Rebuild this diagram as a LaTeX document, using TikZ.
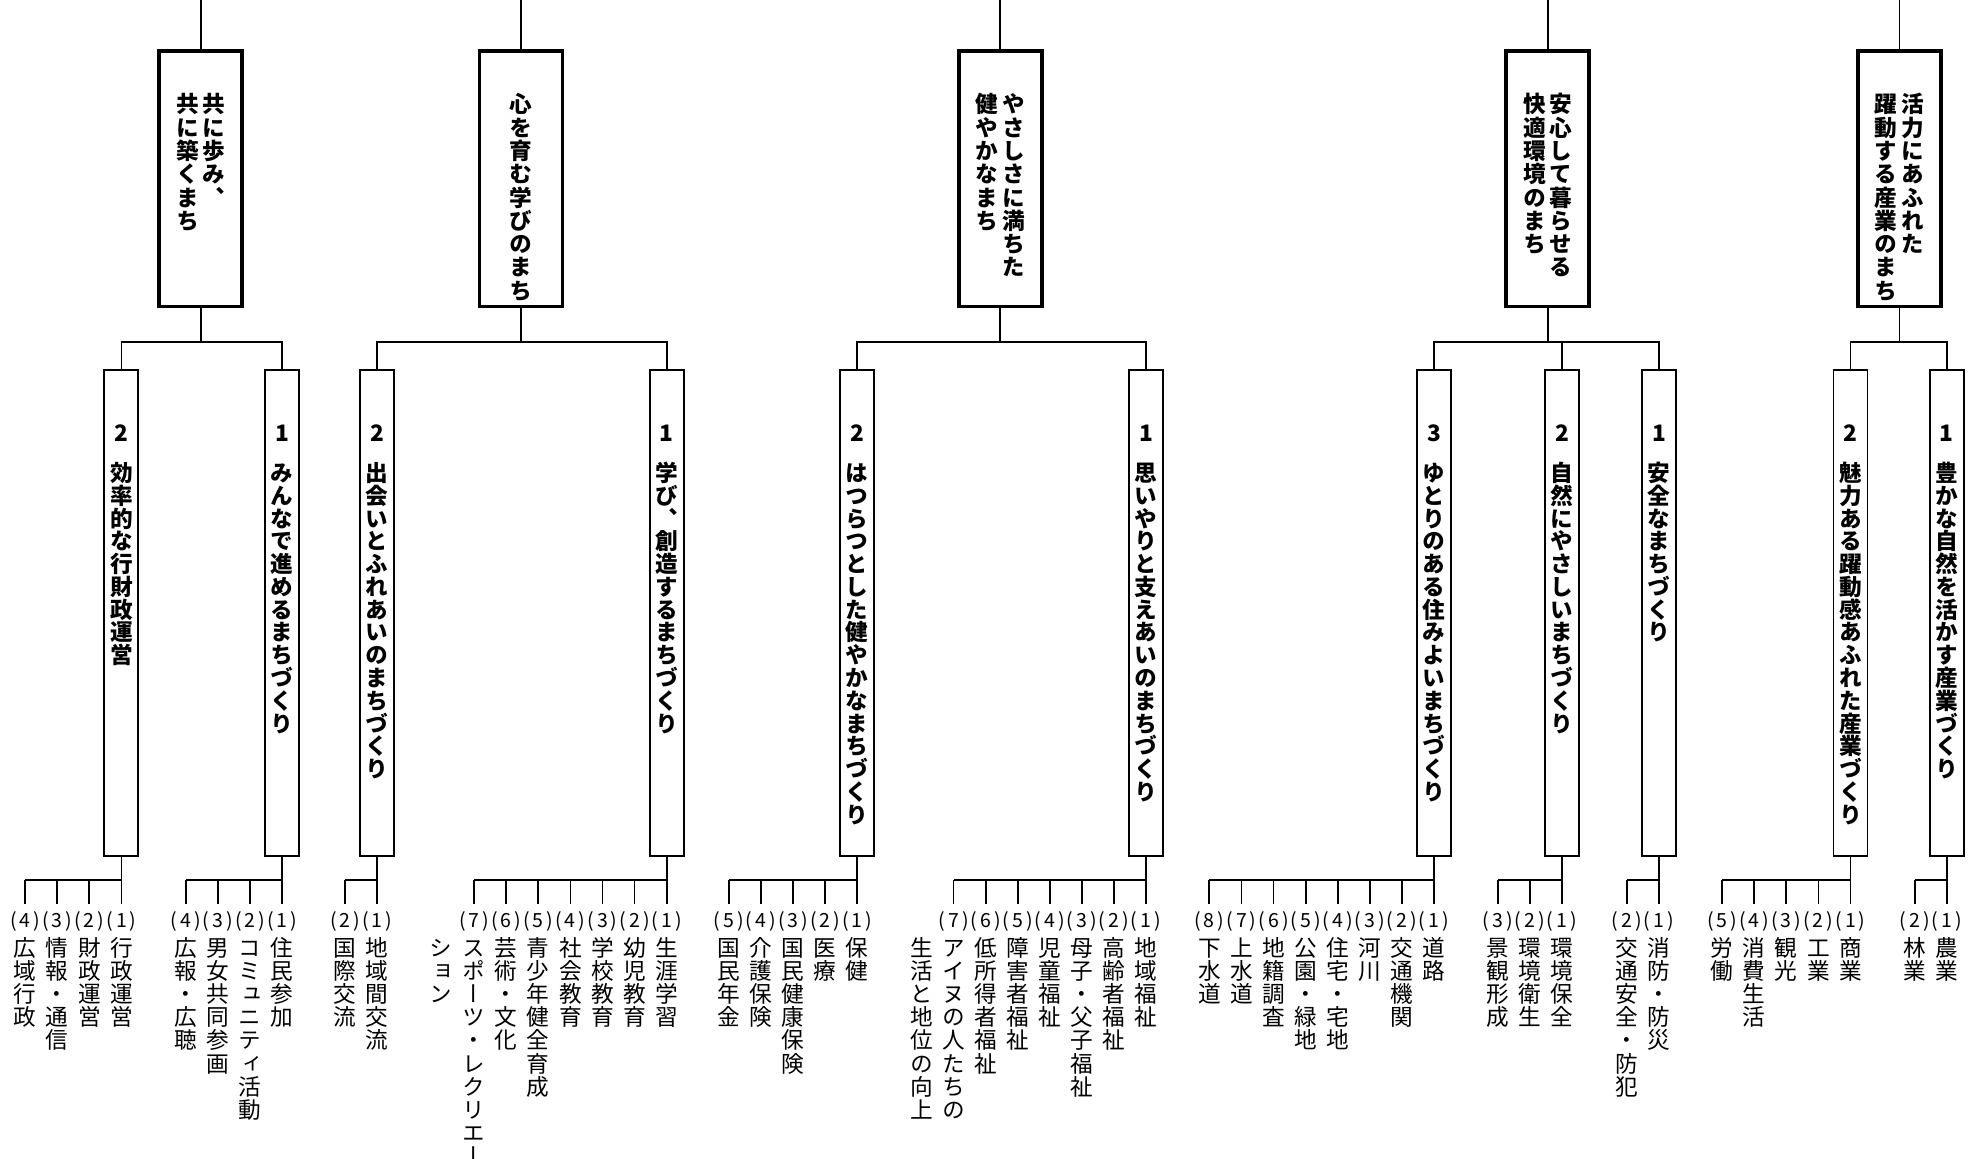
\documentclass[tikz,border=0pt]{standalone}
\usepackage{fontspec}
\setmainfont{Noto Sans CJK JP}
\newfontfamily\jpv[RawFeature=+vert]{Noto Sans CJK JP}
\makeatletter
\def\vt@l#1{\ifx\relax#1\else\vt@c{#1}\expandafter\vt@l\fi}
\newcommand\vt@c[1]{\hbox to 1.2em{\hss\vrule height .88em depth .12em width 0pt\relax#1\hss}}
\newcommand\vtext[2]{\vbox{\baselineskip=#1\relax\lineskip=0pt\lineskiplimit=-\maxdimen\expandafter\vt@l#2\relax}}
\makeatother
\newcommand\pn[1]{\hbox to 24pt{(\hss#1\hss)}}
\tikzset{
  topbox/.style={draw, line width=3pt, minimum width=66pt, minimum height=203pt, inner sep=0pt, outer sep=0pt, anchor=north},
  midbox/.style={draw, line width=1.5pt, minimum width=27pt, minimum height=386pt, inner sep=0pt, outer sep=0pt, anchor=north},
  conn/.style={line width=1.4pt},
  toptxt/.style={anchor=north, inner sep=0pt, font=\jpv\bfseries\fontsize{18}{18}\selectfont},
  midtxt/.style={anchor=north, inner sep=0pt, font=\jpv\bfseries\fontsize{18}{18}\selectfont},
  midnum/.style={inner sep=0pt, font=\bfseries\fontsize{18}{18}\selectfont},
  leaftxt/.style={anchor=north, inner sep=0pt, font=\jpv\fontsize{18}{18}\selectfont},
  numlab/.style={inner sep=0pt, outer ysep=6pt, font=\fontsize{15.5}{15.5}\selectfont}
}
\newcommand\midb[4]{%
  \node[midbox] (#1) at (#2,294.2) {};
  \node[midnum] (#1num) at (#2,344) {#3};
  \node[midtxt] (#1txt) at (#2,366.6) {\vtext{18.1pt}{#4}};
}
\newcommand\leaves[3]{%
  \coordinate (#1b) at (#2,699.5);
  \draw[conn] (#1.south) -- (#1b);
  \foreach \lab [count=\i] in {#3} {
    \node[numlab] (#1n\i) at ({#2-(\i-1)*25.5},732.5) {\pn{\i}};
    \node[leaftxt] (#1t\i) at ({#2-(\i-1)*25.5},744) {\vtext{18.4pt}{\lab}};
    \draw[conn] (#1n\i.north |- #1b) -- (#1n\i.north);
    \draw[conn] (#1b) -- (#1n\i.north |- #1b);
  }
}
\begin{document}
\begin{tikzpicture}[x=1pt,y=-1pt]
\useasboundingbox[fill=white] (0,0) rectangle (1568,921);

% top boxes
\node[topbox] (Atop) at (159.5,40.5) {};
\node[topbox] (Btop) at (414,40.5) {};
\node[topbox] (Ctop) at (795,40.5) {};
\node[topbox] (Dtop) at (1230,40.5) {};
\node[topbox] (Etop) at (1509.5,40.5) {};

\foreach \n in {A,B,C,D,E} {
  \coordinate (\n up) at (\n top.north |- 0,0);
  \draw[conn] (\n up) -- (\n top.north);
}

\node[toptxt] (Atr) at (170,73.7) {\vtext{18.5pt}{共に歩み︑}};
\node[toptxt] (Atl) at (149,73.7) {\vtext{18.5pt}{共に築くまち}};
\node[toptxt] (Btc) at (414,73.7) {\vtext{18.5pt}{心を育む学びのまち}};
\node[toptxt] (Ctr) at (805.5,73.7) {\vtext{18.5pt}{やさしさに満ちた}};
\node[toptxt] (Ctl) at (784.5,73.7) {\vtext{18.5pt}{健やかなまち}};
\node[toptxt] (Dtr) at (1240.5,73.7) {\vtext{18.5pt}{安心して暮らせる}};
\node[toptxt] (Dtl) at (1219.5,73.7) {\vtext{18.5pt}{快適環境のまち}};
\node[toptxt] (Etr) at (1520,73.7) {\vtext{18.5pt}{活力にあふれた}};
\node[toptxt] (Etl) at (1499,73.7) {\vtext{18.5pt}{躍動する産業のまち}};

% middle boxes
\midb{A2}{96.5}{2}{効率的な行財政運営}
\midb{A1}{224.3}{1}{みんなで進めるまちづくり}
\midb{B2}{299.8}{2}{出会いとふれあいのまちづくり}
\midb{B1}{529.8}{1}{学び︑創造するまちづくり}
\midb{C2}{681.3}{2}{はつらつとした健やかなまちづくり}
\midb{C1}{910.8}{1}{思いやりと支えあいのまちづくり}
\midb{D3}{1139.6}{3}{ゆとりのある住みよいまちづくり}
\midb{D2}{1241.3}{2}{自然にやさしいまちづくり}
\midb{D1}{1318.5}{1}{安全なまちづくり}
\midb{E2}{1470.6}{2}{魅力ある躍動感あふれた産業づくり}
\midb{E1}{1547.2}{1}{豊かな自然を活かす産業づくり}

% buses top -> middle
\foreach \n/\l/\r in {A/A2/A1, B/B2/B1, C/C2/C1, D/D3/D1, E/E2/E1} {
  \coordinate (\n bus) at (\n top.south |- 0,271.5);
  \draw[conn] (\n top.south) -- (\n bus);
  \draw[conn] (\l.north) -- (\l.north |- \n bus) -- (\r.north |- \n bus) -- (\r.north);
}
\draw[conn] (D2.north) -- (D2.north |- Dbus);

% leaves
\leaves{A2}{96.5}{行政運営,財政運営,情報・通信,広域行政}
\leaves{A1}{224.3}{住民参加,コミュニティ活動,男女共同参画,広報・広聴}
\leaves{B2}{299.8}{地域間交流,国際交流}
\leaves{B1}{529.8}{生涯学習,幼児教育,学校教育,社会教育,青少年健全育成,芸術・文化,スポーツ・レクリエー}
\leaves{C2}{681.3}{保健,医療,国民健康保険,介護保険,国民年金}
\leaves{C1}{910.8}{地域福祉,高齢者福祉,母子・父子福祉,児童福祉,障害者福祉,低所得者福祉,アイヌの人たちの}
\leaves{D3}{1139.6}{道路,交通機関,河川,住宅・宅地,公園・緑地,地籍調査,上水道,下水道}
\leaves{D2}{1241.3}{環境保全,環境衛生,景観形成}
\leaves{D1}{1318.5}{消防・防災,交通安全・防犯}
\leaves{E2}{1470.6}{商業,工業,観光,消費生活,労働}
\leaves{E1}{1547.2}{農業,林業}

\node[leaftxt] (B1t7b) at (350.3,744) {\vtext{18.4pt}{ション}};
\node[leaftxt] (C1t7b) at (732.5,744) {\vtext{18.4pt}{生活と地位の向上}};
\end{tikzpicture}
\end{document}
